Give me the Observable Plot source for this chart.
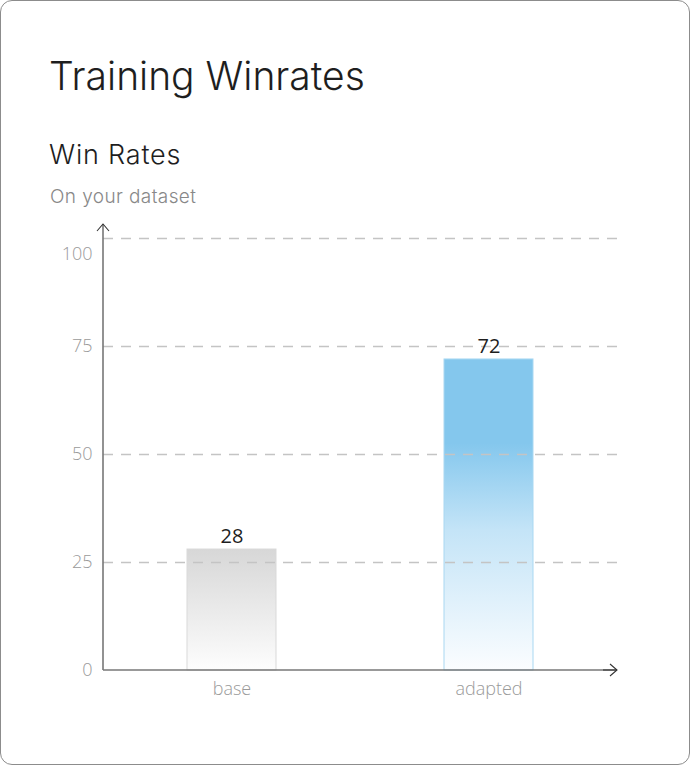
<!DOCTYPE html>
<html>
<head>
<meta charset="utf-8">
<script src="https://cdn.jsdelivr.net/npm/d3@7"></script>
<script src="https://cdn.jsdelivr.net/npm/@observablehq/plot@0.6"></script>
<style>
  html, body { margin: 0; padding: 0; background: #fff; }
  body { width: 690px; height: 765px; position: relative; font-family: Inter, sans-serif; }
  .card { position: absolute; left: 0; top: 0; width: 690px; height: 765px; box-sizing: border-box;
          border: 1px solid #8c8c8c; border-radius: 12px; }
  .title { position: absolute; left: 49px; top: 56px; font-size: 39px; font-weight: 300; color: #1e1e1e; line-height: 1; margin: 0; }
  .sub { position: absolute; left: 49px; top: 141px; font-size: 27px; font-weight: 300; letter-spacing: 0.8px; color: #1e1e1e; line-height: 1; margin: 0; }
  .cap { position: absolute; left: 50px; top: 187px; font-size: 19px; font-weight: 300; letter-spacing: 0.4px; color: #888; line-height: 1; margin: 0; }
  #chart { position: absolute; left: 0; top: 210px; }
</style>
</head>
<body>
<div class="card"></div>
<h1 class="title">Training Winrates</h1>
<h2 class="sub">Win Rates</h2>
<p class="cap">On your dataset</p>
<svg width="0" height="0" style="position:absolute">
  <defs>
    <linearGradient id="gBase" x1="0" y1="0" x2="0" y2="1">
      <stop offset="0" stop-color="#d7d7d7"/>
      <stop offset="1" stop-color="#fdfdfd"/>
    </linearGradient>
    <linearGradient id="gAdapted" x1="0" y1="0" x2="0" y2="1">
      <stop offset="0" stop-color="#84c7ed"/>
      <stop offset="0.27" stop-color="#84c7ed"/>
      <stop offset="0.55" stop-color="#c4e4f7"/>
      <stop offset="1" stop-color="#fbfdff"/>
    </linearGradient>
  </defs>
</svg>
<div id="chart"></div>
<script>
const categories = ["base", "adapted"];
const winRates = [28, 72];
const yTicks = [0, 25, 50, 75];
const topTick = [100];
const gridTicks = [25, 50, 75, 100];

const barFills = ["url(#gBase)", "url(#gAdapted)"];
const barStrokes = ["#d9d9d9", "#a9d8f2"];

const rows = categories.map((c, i) => ({category: c, value: winRates[i], idx: i}));

function axesMark(index, scales, values, dims) {
  const g = d3.create("svg:g");
  const x0 = dims.marginLeft;
  const x1 = dims.width - dims.marginRight;
  const yb = dims.height - dims.marginBottom;
  const yt = dims.marginTop - 14;
  g.append("line").attr("x1", x0).attr("x2", x0).attr("y1", yb).attr("y2", yt)
    .attr("stroke", "#777").attr("stroke-width", 1.6);
  g.append("line").attr("x1", x0).attr("x2", x1).attr("y1", yb).attr("y2", yb)
    .attr("stroke", "#777").attr("stroke-width", 1.6);
  g.append("path").attr("d", `M${x0 - 6},${yt + 7}L${x0},${yt}L${x0 + 6},${yt + 7}`)
    .attr("fill", "none").attr("stroke", "#333").attr("stroke-width", 1.1);
  g.append("path").attr("d", `M${x1 - 7},${yb - 6}L${x1},${yb}L${x1 - 7},${yb + 6}`)
    .attr("fill", "none").attr("stroke", "#333").attr("stroke-width", 1.1);
  g.append("line").attr("x1", x1 - 14).attr("x2", x1).attr("y1", yb).attr("y2", yb)
    .attr("stroke", "#333").attr("stroke-width", 1.1);
  return g.node();
}

const plot = Plot.plot({
  width: 690,
  height: 500,
  marginLeft: 103,
  marginRight: 73,
  marginTop: 28,
  marginBottom: 40,
  style: {fontFamily: "Open Sans, sans-serif", background: "transparent", overflow: "visible"},
  x: {domain: categories, padding: 0, label: null},
  y: {domain: [0, 100], label: null},
  marks: [
    Plot.barY(rows, {
      x: "category", y: "value",
      fill: d => barFills[d.idx],
      stroke: d => barStrokes[d.idx],
      strokeWidth: 1,
      insetLeft: 84, insetRight: 84
    }),
    Plot.ruleY(gridTicks, {stroke: "#c4c4c4", strokeWidth: 1.4, strokeDasharray: "10,8"}),
    Plot.text(rows, {x: "category", y: "value", text: d => String(d.value), dy: -13, fontSize: 20, fill: "#1e1e1e"}),
    Plot.axisY({ticks: yTicks, tickSize: 0, tickPadding: 11, fontSize: 18, fontWeight: 300, fill: "#9a9a9a", label: null}),
    Plot.axisY({ticks: topTick, tickSize: 0, tickPadding: 11, fontSize: 18, fontWeight: 300, fill: "#9a9a9a", label: null, dy: 16}),
    Plot.axisX({tickSize: 0, tickPadding: 12, fontSize: 18, fontWeight: 300, fill: "#9a9a9a", label: null}),
    axesMark
  ],
  color: {type: "identity"}
});

document.getElementById("chart").appendChild(plot);
</script>
</body>
</html>
